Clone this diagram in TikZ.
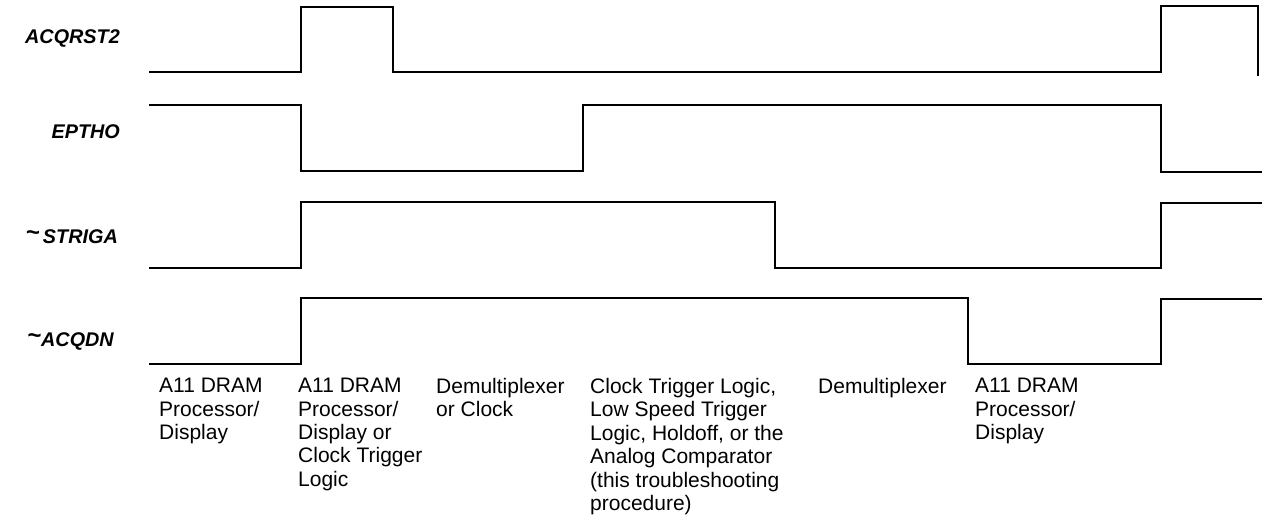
\documentclass[tikz,border=0pt]{standalone}
\usepackage{fontspec}
\setmainfont{Liberation Sans}
\newcommand{\sigtilde}{\raisebox{3pt}{\fontsize{24}{24}\selectfont\textasciitilde}}
\begin{document}
\begin{tikzpicture}[x=1pt,y=-1pt,
  sig/.style={line width=2.2pt, line join=miter, line cap=butt},
  siglabel/.style={anchor=base east, font=\fontsize{19.8}{22}\selectfont\bfseries\itshape, inner sep=0pt},
  cause/.style={anchor=north west, align=left, font=\fontsize{21}{23.4}\selectfont, inner sep=0pt}]
\useasboundingbox (0,0) rectangle (1274,529);
% signal names
\node[siglabel] (lacq) at (120,44) {ACQRST2};
\node[siglabel] (lep)  at (120,139) {EPTHO};
\node[siglabel] (lstr) at (118,244) {\sigtilde\,STRIGA};
\node[siglabel] (ldn)  at (114,346) {\sigtilde ACQDN};
% waveforms
\draw[sig] (149,72) -- (301,72) -- (301,7) -- (393,7) -- (393,72) -- (1161,72) -- (1161,6) -- (1258,6) -- (1258,76);
\draw[sig] (149,105) -- (301,105) -- (301,171) -- (583,171) -- (583,105) -- (1161,105) -- (1161,172) -- (1262,172);
\draw[sig] (149,268) -- (301,268) -- (301,202) -- (775,202) -- (775,268) -- (1161,268) -- (1161,203) -- (1262,203);
\draw[sig] (149,364) -- (301,364) -- (301,298) -- (968,298) -- (968,364) -- (1161,364) -- (1161,299) -- (1262,299);
% causes
\node[cause] (c1) at (159,378) {A11 DRAM\\Processor/\\Display};
\node[cause] (c2) at (298,378) {A11 DRAM\\Processor/\\Display or\\Clock Trigger\\Logic};
\node[cause] (c3) at (436,378) {Demultiplexer\\or Clock};
\node[cause] (c4) at (590,378) {Clock Trigger Logic,\\Low Speed Trigger\\Logic, Holdoff, or the\\Analog Comparator\\(this troubleshooting\\procedure)};
\node[cause] (c5) at (818,378) {Demultiplexer};
\node[cause] (c6) at (975,378) {A11 DRAM\\Processor/\\Display};
\end{tikzpicture}
\end{document}
